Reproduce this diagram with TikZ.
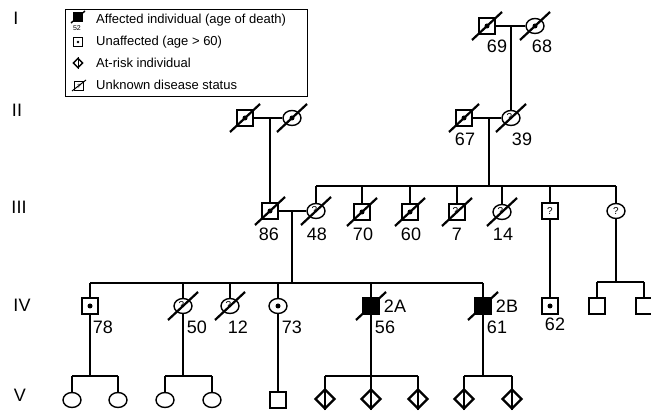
\documentclass[tikz,border=0pt]{standalone}
\usepackage{fontspec}
\setmainfont{Liberation Sans}
\usepackage{tikz}
\usetikzlibrary{shapes.geometric, positioning}

\newcommand{\qmark}{\hspace*{-3pt}\raisebox{1.5pt}{?}}

\begin{document}
\begin{tikzpicture}[x=1pt, y=-1pt,
    male/.style={rectangle, draw, line width=1.4pt, minimum size=16pt, inner sep=0pt, font=\fontsize{10}{10}\selectfont},
    female/.style={ellipse, draw, line width=1.4pt, minimum width=18pt, minimum height=15pt, inner sep=0pt, font=\fontsize{10}{10}\selectfont},
    atrisk/.style={diamond, draw, line width=2.4pt, minimum size=20pt, inner sep=0pt},
    affected/.style={fill=black},
    link/.style={line width=1.4pt},
    slash/.style={line width=2.2pt},
    age/.style={font=\fontsize{18}{18}\selectfont, inner sep=0pt},
    gen/.style={font=\fontsize{18}{18}\selectfont, inner sep=0pt},
    keytext/.style={anchor=west, font=\fontsize{13}{13}\selectfont, inner sep=0pt},
]
    \useasboundingbox (0,0) rectangle (651,411);

    % generation numbers
    \node[gen] (gI) at (16,18) {I};
    \node[gen] (gII) at (17,110) {II};
    \node[gen] (gIII) at (19,207) {III};
    \node[gen] (gIV) at (22,305) {IV};
    \node[gen] (gV) at (20,395) {V};

    % legend
    \draw[line width=0.8pt] (65,9) rectangle (307,96);
    \node[male, affected, minimum size=9pt, line width=0.8pt] (k1) at (78,17) {};
    \draw[line width=1.4pt] ([shift={(-7,6)}]k1.center) -- ([shift={(7,-6)}]k1.center);
    \node[font=\fontsize{7}{7}\selectfont, inner sep=0pt] (k1n) at (77,28) {52};
    \node[male, minimum size=9pt, line width=0.8pt] (k2) at (78,42) {};
    \fill (k2.center) circle (1.4pt);
    \node[atrisk, minimum size=10pt, line width=1.4pt] (k3) at (78,63) {};
    \draw[line width=1pt] (k3.north) -- (k3.south);
    \node[male, minimum size=9pt, line width=0.8pt, font=\fontsize{6}{6}\selectfont] (k4) at (79,86) {?};
    \draw[line width=1pt] ([shift={(-7,5)}]k4.center) -- ([shift={(7,-6)}]k4.center);
    \node[keytext] (t1) at (96,20) {Affected individual (age of death)};
    \node[keytext] (t2) at (96,42) {Unaffected (age > 60)};
    \node[keytext] (t3) at (96,63) {At-risk individual};
    \node[keytext] (t4) at (96,85) {Unknown disease status};

    % generation I
    \node[male] (I1) at (487,26) {};
    \node[female] (I2) at (535,26) {};
    \node[age] (a69) at (497,46) {69};
    \node[age] (a68) at (542,46) {68};

    % generation II
    \node[male] (II1) at (245,118) {};
    \node[female] (II2) at (292,118) {};
    \node[male] (II3) at (464,118) {};
    \node[female] (II4) at (511,118) {\qmark};
    \node[age] (a67) at (465,139) {67};
    \node[age] (a39) at (522,139) {39};

    % generation III
    \node[male] (III1) at (270,211) {};
    \node[female] (III2) at (316,211) {\qmark};
    \node[male] (III3) at (362,212) {};
    \node[male] (III4) at (410,212) {};
    \node[male] (III5) at (457,212) {\qmark};
    \node[female] (III6) at (502,212) {\qmark};
    \node[male] (III7) at (550,211) {?};
    \node[female] (III8) at (616,211) {?};
    \node[age] (a86) at (269,234) {86};
    \node[age] (a48) at (317,234) {48};
    \node[age] (a70) at (363,234) {70};
    \node[age] (a60) at (411,234) {60};
    \node[age] (a7) at (457,234) {7};
    \node[age] (a14) at (503,234) {14};

    % generation IV
    \node[male] (IV1) at (90,306) {};
    \node[female] (IV2) at (183,306) {\qmark};
    \node[female] (IV3) at (230,306) {\qmark};
    \node[female] (IV4) at (278,306) {};
    \node[male, affected] (IV5) at (371,306) {};
    \node[male, affected] (IV6) at (483,306) {};
    \node[male] (IV7) at (550,306) {};
    \node[male] (IV8) at (597,306) {};
    \node[male] (IV9) at (644,306) {};
    \node[age] (a78) at (103,327) {78};
    \node[age] (a50) at (197,327) {50};
    \node[age] (a12) at (238,327) {12};
    \node[age] (a73) at (292,327) {73};
    \node[age] (a2A) at (395,306) {2A};
    \node[age] (a56) at (385,327) {56};
    \node[age] (a2B) at (507,306) {2B};
    \node[age] (a61) at (497,327) {61};
    \node[age] (a62) at (555,324) {62};

    % generation V
    \node[female] (V1) at (72,400) {};
    \node[female] (V2) at (118,400) {};
    \node[female] (V3) at (165,400) {};
    \node[female] (V4) at (212,400) {};
    \node[male] (V5) at (278,400) {};
    \node[atrisk] (V6) at (325,399) {};
    \node[atrisk] (V7) at (371,399) {};
    \node[atrisk] (V8) at (418,399) {};
    \node[atrisk] (V9) at (464,399) {};
    \node[atrisk] (V10) at (512,399) {};

    \coordinate (s3) at (489,186);
    \coordinate (s4) at (292,283);
    \coordinate (s5) at (616,282);
    \coordinate (sv) at (0,376);

    % marriages and descent
    \draw[link] (I1.east) -- (I2.west);
    \draw[link] (II4.north) -- (II4.north |- I1);
    \draw[link] (II1.east) -- (II2.west);
    \draw[link] (III1.north) -- (III1.north |- II1);
    \draw[link] (II3.east) -- (II4.west);
    \draw[link] (s3 |- II3) -- (s3);
    \draw[link] (III2.north |- s3) -- (III8.north |- s3);
    \foreach \n in {III2,III3,III4,III5,III6,III7,III8}
        \draw[link] (\n.north) -- (\n.north |- s3);
    \draw[link] (III1.east) -- (III2.west);
    \draw[link] (s4 |- III1) -- (s4);
    \draw[link] (IV1.north |- s4) -- (IV6.north |- s4);
    \foreach \n in {IV1,IV2,IV3,IV4,IV5,IV6}
        \draw[link] (\n.north) -- (\n.north |- s4);
    \draw[link] (III7.south) -- (IV7.north);
    \draw[link] (III8.south) -- (s5);
    \draw[link] (IV8.north |- s5) -- (IV9.north |- s5);
    \foreach \n in {IV8,IV9}
        \draw[link] (\n.north) -- (\n.north |- s5);

    % sibships of generation V
    \draw[link] (IV1.south) -- (IV1.south |- sv);
    \draw[link] (V1.north |- sv) -- (V2.north |- sv);
    \draw[link] (IV2.south) -- (IV2.south |- sv);
    \draw[link] (V3.north |- sv) -- (V4.north |- sv);
    \foreach \n in {V1,V2,V3,V4}
        \draw[link] (\n.north) -- (\n.north |- sv);
    \draw[link] (IV4.south) -- (V5.north);
    \draw[link] (IV5.south) -- (V7.south);
    \draw[link] (V6.north |- sv) -- (V8.north |- sv);
    \draw[link] (IV6.south) -- (IV6.south |- sv);
    \draw[link] (V9.north |- sv) -- (V10.north |- sv);
    \foreach \n in {V6,V8,V9,V10}
        \draw[link] (\n.south) -- (\n.north |- sv);

    % unaffected marks and deceased slashes
    \foreach \n in {I1,I2,II1,II2,II3,III1,III3,III4,IV1,IV4,IV7}
        \fill (\n.center) circle (2.5pt);
    \foreach \n in {I1,I2,II1,II2,II3,II4,III1,III2,III3,III4,III5,III6,IV2,IV3,IV5,IV6}
        \draw[slash] ([shift={(-15,14)}]\n.center) -- ([shift={(15,-14)}]\n.center);
\end{tikzpicture}
\end{document}
